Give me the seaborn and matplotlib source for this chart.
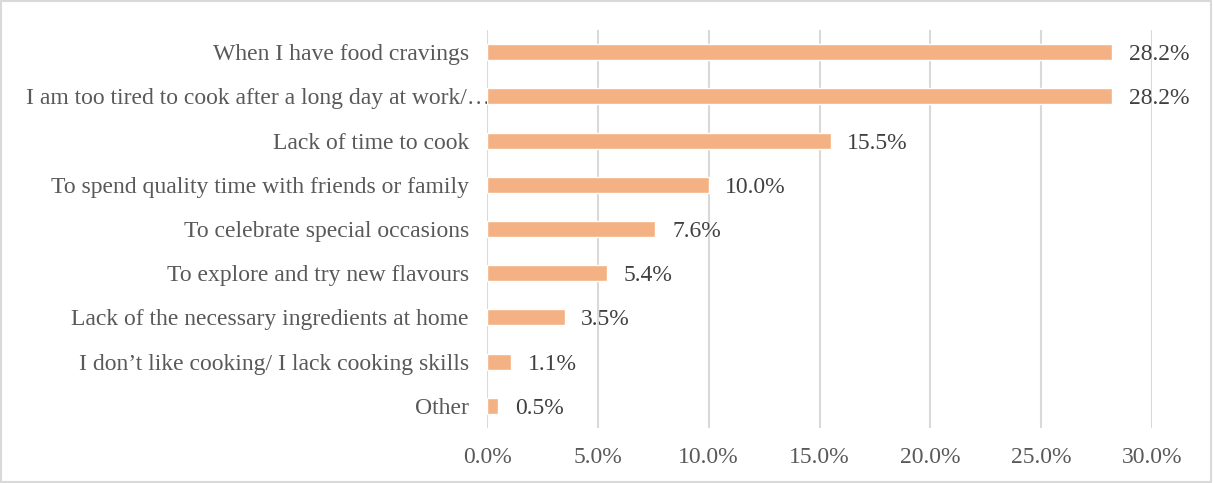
import matplotlib
matplotlib.use("Agg")
import matplotlib.pyplot as plt
import matplotlib.patches as mpatches
import seaborn as sns
import pandas as pd

reasons = [
    "When I have food cravings",
    "I am too tired to cook after a long day at work/\u2026",
    "Lack of time to cook",
    "To spend quality time with friends or family",
    "To celebrate special occasions",
    "To explore and try new flavours",
    "Lack of the necessary ingredients at home",
    "I don\u2019t like cooking/ I lack cooking skills",
    "Other",
]
shares = [28.2, 28.2, 15.5, 10.0, 7.6, 5.4, 3.5, 1.1, 0.5]
xticks = [0, 5, 10, 15, 20, 25, 30]

df = pd.DataFrame({"reason": reasons, "share": shares})

sns.set_theme(style="white")
plt.rcParams["font.family"] = ["Liberation Serif", "DejaVu Serif"]

text_grey = "#595959"
grid_grey = "#D9D9D9"
bar_colour = "#F4B183"

fig = plt.figure(figsize=(12.13, 4.83), dpi=100)
ax = fig.add_axes([0.4015, 0.1139, 0.9497 - 0.4015, 0.9379 - 0.1139])

sns.barplot(data=df, x="share", y="reason", color=bar_colour, width=0.36,
            saturation=1, ax=ax, zorder=3)

ax.set_xlim(0, 30)
ax.set_xticks(xticks)
ax.set_xticklabels([f"{t:.1f}%" for t in xticks])
ax.xaxis.grid(True, color=grid_grey, linewidth=1.5, zorder=0)
ax.yaxis.grid(False)
ax.set_axisbelow(True)
for s in ax.spines.values():
    s.set_visible(False)
ax.tick_params(axis="both", length=0, labelsize=17, colors=text_grey)
ax.tick_params(axis="x", pad=14)
ax.tick_params(axis="y", pad=13)
ax.set_xlabel("")
ax.set_ylabel("")
ax.set_ylim(len(reasons) - 0.5, -0.5)

# The truncated long label runs slightly past the axis line
long_idx = max(range(len(reasons)), key=lambda k: len(reasons[k]))
ax.set_yticks(range(len(reasons)))
ax.set_yticklabels(["" if k == long_idx else r for k, r in enumerate(reasons)])
ax.annotate(reasons[long_idx], xy=(0, long_idx),
            xycoords=("axes fraction", "data"),
            xytext=(2.5, 0), textcoords="offset points",
            ha="right", va="center_baseline", fontsize=17, color=text_grey,
            annotation_clip=False, zorder=1)

for i, v in enumerate(shares):
    ax.text(v + 0.75, i, f"{v:.1f}%", va="center_baseline", ha="left",
            fontsize=17, color="#404040")

fig.patches.append(mpatches.Rectangle((0.001, 0.002), 0.997, 0.995,
                                      transform=fig.transFigure, fill=False,
                                      edgecolor=grid_grey, linewidth=1.5))

fig.savefig("out.png", dpi=100, facecolor="white")
